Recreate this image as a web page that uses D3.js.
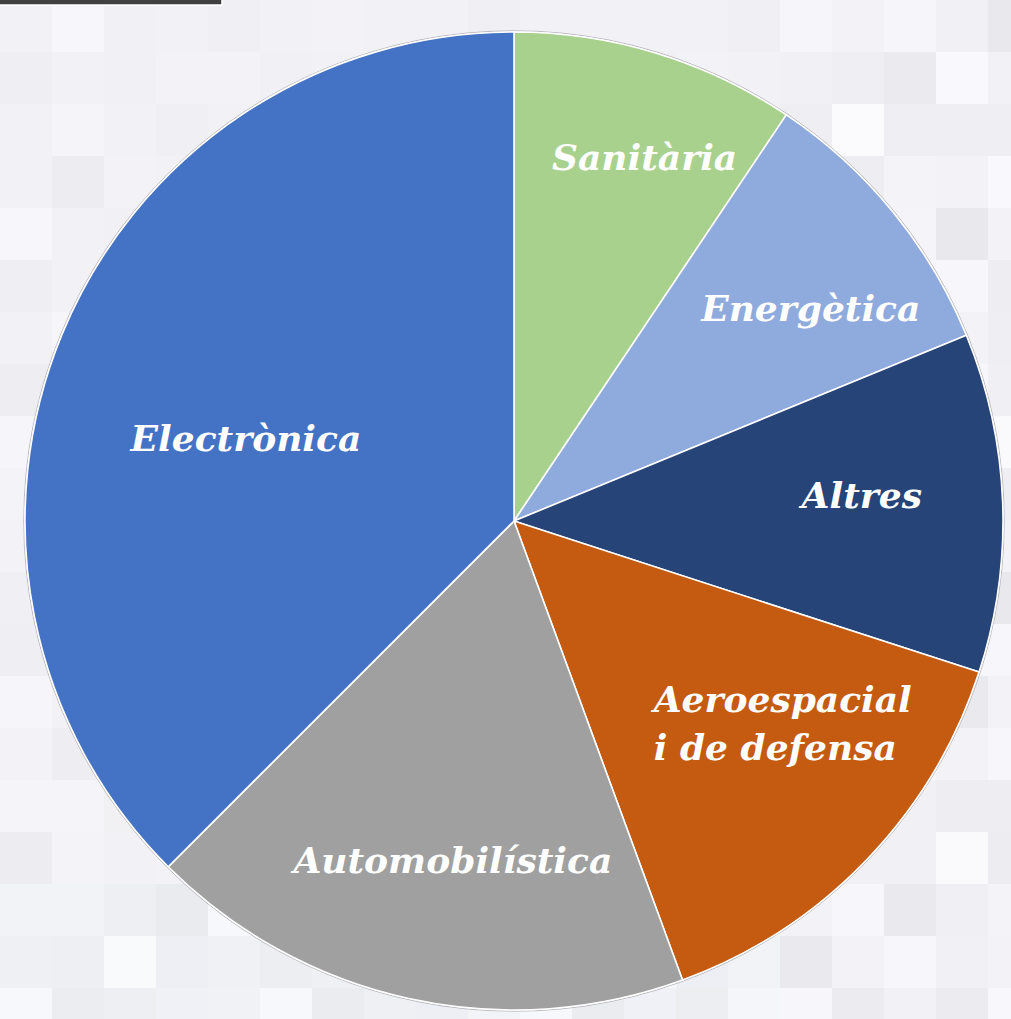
<!DOCTYPE html>
<html>
<head>
<meta charset="utf-8">
<script src="https://cdn.jsdelivr.net/npm/d3@7"></script>
<style>
  html, body { margin: 0; padding: 0; background: #f1f2f5; }
  #chart { width: 1011px; height: 1019px; }
  .lbl { font-family: 'DejaVu Serif', serif; font-style: italic; font-weight: bold; fill: #ffffff; }
</style>
</head>
<body>
<div id="chart"></div>
<script>
// Sectors, clockwise from 12 o'clock (percent share)
const sectors = ["Sanitària", "Energètica", "Altres", "Aeroespacial i de defensa", "Automobilística", "Electrònica"];
const shares = [9.4, 9.4, 11.2, 14.4, 18.1, 37.5];
const colors = ["#a9d18e", "#8faadc", "#264478", "#c55a11", "#a0a0a0", "#4472c4"];
// label lines (the long one is broken in two)
const labelLines = [["Sanitària"], ["Energètica"], ["Altres"], ["Aeroespacial", "i de defensa"], ["Automobilística"], ["Electrònica"]];

const width = 1011, height = 1019;
const cx = 514, cy = 521, radius = 489;

const svg = d3.select("#chart").append("svg")
  .attr("width", width)
  .attr("height", height);

// background: soft blocky texture, stronger toward the right and bottom
const bg = svg.append("g");
bg.append("rect").attr("width", width).attr("height", height).attr("fill", "#f2f3f6");
const block = 52;
for (let bx = 0; bx < width; bx += block) {
  for (let by = 0; by < height; by += block) {
    const t = Math.sin(bx * 0.037 + by * 0.021) * Math.cos(by * 0.045 - bx * 0.013);
    const v = Math.round(240 + t * 12);
    const edge = bx > 760 ? 0.8 : (by > 860 ? 0.7 : (bx < 60 ? 0.5 : 0.15));
    bg.append("rect")
      .attr("x", bx).attr("y", by)
      .attr("width", block).attr("height", block)
      .attr("fill", `rgb(${v},${v},${Math.min(255, v + 6)})`)
      .attr("opacity", edge);
  }
}

// dark strip top-left
svg.append("rect").attr("x", -1).attr("y", -1).attr("width", 223).attr("height", 6)
  .attr("fill", "#404040").attr("stroke", "#ffffff").attr("stroke-width", 1.5);

const g = svg.append("g").attr("transform", `translate(${cx},${cy})`);

// thin grey rim outside the pie
g.append("circle").attr("r", radius + 1.2)
  .attr("fill", "none").attr("stroke", "#b8b8bc").attr("stroke-width", 1);

const data = sectors.map((s, i) => ({ sector: s, share: shares[i], color: colors[i], lines: labelLines[i] }));

const pie = d3.pie().sort(null).value(d => d.share);
const arc = d3.arc().innerRadius(0).outerRadius(radius);
const arcs = pie(data);

g.selectAll("path.slice")
  .data(arcs)
  .join("path")
  .attr("class", "slice")
  .attr("d", arc)
  .attr("fill", d => d.data.color)
  .attr("stroke", "#ffffff")
  .attr("stroke-width", 1.6);

// label placement: radius and nudge per slice
const labelLayout = {
  "Sanitària": { r: 380, dx: 20, dy: 0 },
  "Energètica": { r: 360, dx: 18, dy: 15 },
  "Altres": { r: 345, dx: 3, dy: -13 },
  "Aeroespacial i de defensa": { r: 330, dx: 24, dy: -27 },
  "Automobilística": { r: 345, dx: 13, dy: 2 },
  "Electrònica": { r: 275, dx: -14, dy: 22 }
};

const fontSize = 36;
const lineGap = 48;

arcs.forEach(a => {
  const lay = labelLayout[a.data.sector];
  const mid = (a.startAngle + a.endAngle) / 2;
  const x = Math.sin(mid) * lay.r + lay.dx;
  const y0 = -Math.cos(mid) * lay.r + lay.dy;
  const n = a.data.lines.length;
  a.data.lines.forEach((ln, i) => {
    g.append("text")
      .attr("class", "lbl")
      .attr("x", n > 1 ? x - 122 : x)
      .attr("y", y0 - (n - 1) * lineGap / 2 + i * lineGap)
      .attr("text-anchor", n > 1 ? "start" : "middle")
      .attr("dominant-baseline", "central")
      .style("font-size", fontSize + "px")
      .text(ln);
  });
});
</script>
</body>
</html>
